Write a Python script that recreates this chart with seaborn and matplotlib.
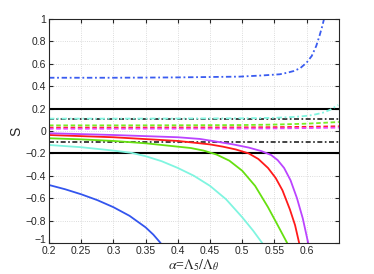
import numpy as np
import matplotlib.pyplot as plt
import matplotlib.transforms as mtransforms
import seaborn as sns

# alpha values and S curves
x_blue = [0.2, 0.225, 0.25, 0.275, 0.3, 0.325, 0.35, 0.362, 0.3733]
s_blue = [-0.482, -0.52, -0.565, -0.617, -0.68, -0.757, -0.86, -0.925, -1.0]

x_cyan = [0.2, 0.25, 0.3, 0.328, 0.35, 0.375, 0.4, 0.425, 0.45, 0.475, 0.5, 0.517, 0.531]
s_cyan = [-0.125, -0.145, -0.175, -0.195, -0.225, -0.27, -0.33, -0.40, -0.49, -0.61,
          -0.77, -0.89, -1.0]

x_green = [0.2, 0.25, 0.3, 0.35, 0.4, 0.42, 0.44, 0.46, 0.48, 0.5, 0.52, 0.54, 0.555, 0.5698]
s_green = [-0.065, -0.075, -0.089, -0.11, -0.14, -0.152, -0.175, -0.21, -0.265, -0.355,
           -0.49, -0.68, -0.84, -1.0]

x_red = [0.2, 0.3, 0.4, 0.434, 0.45, 0.47, 0.49, 0.51, 0.525, 0.54, 0.552, 0.5625,
         0.574, 0.582, 0.5884]
s_red = [-0.036, -0.056, -0.089, -0.11, -0.12, -0.14, -0.165, -0.2, -0.25, -0.33, -0.42,
         -0.53, -0.70, -0.84, -1.0]

x_purple = [0.2, 0.3, 0.4, 0.434, 0.46, 0.486, 0.51, 0.53, 0.545, 0.555, 0.565, 0.575,
            0.585, 0.594, 0.6024]
s_purple = [-0.02, -0.036, -0.056, -0.071, -0.095, -0.12, -0.148, -0.18, -0.215, -0.26,
            -0.33, -0.44, -0.60, -0.78, -1.0]

x_blue_d = [0.2, 0.3, 0.4, 0.496, 0.53, 0.5585, 0.57, 0.58, 0.59, 0.6, 0.608, 0.615,
            0.62, 0.6245, 0.627]
s_blue_d = [0.475, 0.475, 0.478, 0.485, 0.495, 0.506, 0.52, 0.535, 0.56, 0.61, 0.67,
            0.76, 0.85, 0.94, 1.0]

x_cyan_d = [0.2, 0.3, 0.4, 0.5, 0.55, 0.58, 0.6, 0.61, 0.625, 0.636, 0.649]
s_cyan_d = [0.11, 0.11, 0.111, 0.113, 0.117, 0.125, 0.135, 0.143, 0.163, 0.1875, 0.232]

x_green_d = [0.2, 0.3, 0.4, 0.5, 0.55, 0.6, 0.65]
s_green_d = [0.05, 0.05, 0.051, 0.053, 0.057, 0.065, 0.08]

x_red_d = [0.2, 0.3, 0.4, 0.5, 0.55, 0.6, 0.65]
s_red_d = [0.03, 0.03, 0.031, 0.032, 0.034, 0.037, 0.042]

x_mag_d = [0.2, 0.3, 0.4, 0.5, 0.55, 0.6, 0.65]
s_mag_d = [0.02, 0.02, 0.021, 0.022, 0.023, 0.026, 0.03]

bounds_solid = [0.2, -0.2]
bounds_dashdot = [0.105, -0.097]

xtick_vals = [0.2, 0.25, 0.3, 0.35, 0.4, 0.45, 0.5, 0.55, 0.6]
xtick_labels = ['0.2', '0.25', '0.3', '0.35', '0.4', '0.45', '0.5', '0.55', '0.6']
ytick_labels = ['\u22121', '\u22120.8', '\u22120.6', '\u22120.4', '\u22120.2', '0',
                '0.2', '0.4', '0.6', '0.8', '1']

sns.set_style('ticks')
plt.rcParams['font.family'] = ['Liberation Sans', 'DejaVu Sans']
plt.rcParams['mathtext.fontset'] = 'stix'

fig = plt.figure(figsize=(3.74, 2.74), dpi=100)
ax = fig.add_axes([0.131, 0.113, 0.775, 0.818])

for v in bounds_solid:
    ax.axhline(v, color='black', lw=1.5)
for v in bounds_dashdot:
    ax.axhline(v, color='#222222', lw=1.2, ls=(0, (3, 1.5, 1, 1.5)))

dashdot = (0, (3, 1.5, 1, 1.5))
dashed = [
    (x_blue_d, s_blue_d, '#3a5cf0', dashdot),
    (x_cyan_d, s_cyan_d, '#80f5e0', dashdot),
    (x_green_d, s_green_d, '#77ee22', (0, (2.5, 1.5))),
    (x_red_d, s_red_d, '#ff2020', (0, (2.5, 1.5))),
    (x_mag_d, s_mag_d, '#ee44ff', (0, (2.5, 1.5))),
]
for xs, ys, c, ls in dashed:
    sns.lineplot(x=xs, y=ys, ax=ax, color=c, lw=1.3, linestyle=ls)

solid = [
    (x_blue, s_blue, '#3355ee'),
    (x_cyan, s_cyan, '#80f5e0'),
    (x_green, s_green, '#66e010'),
    (x_red, s_red, '#ff1a1a'),
    (x_purple, s_purple, '#bb44ff'),
]
for xs, ys, c in solid:
    sns.lineplot(x=xs, y=ys, ax=ax, color=c, lw=1.3)

ax.set_xlim(0.2, 0.65)
ax.set_ylim(-1, 1)
ax.set_xticks(xtick_vals)
ax.set_xticklabels(xtick_labels)
ax.set_yticks(np.arange(-1, 1.01, 0.2).round(1))
ax.set_yticklabels(ytick_labels)
ax.grid(True, ls=':', color='#d0d0d0', lw=0.6)
ax.tick_params(direction='in', labelsize=7.5, length=3, top=True, right=True, pad=2)
for sp in ax.spines.values():
    sp.set_linewidth(0.8)
    sp.set_visible(True)

# lift the -1 label so it clears the 0.2 label below
lab = ax.get_yticklabels()[0]
lab.set_transform(lab.get_transform() + mtransforms.ScaledTranslation(0, 3 / 72, fig.dpi_scale_trans))

ax.set_ylabel('S', fontsize=10, labelpad=2)
ax.set_xlabel(r'$\alpha$=$\Lambda_5/\Lambda_\theta$', fontsize=10,
              family='Liberation Serif', labelpad=1)

fig.savefig('out.png', dpi=100)
